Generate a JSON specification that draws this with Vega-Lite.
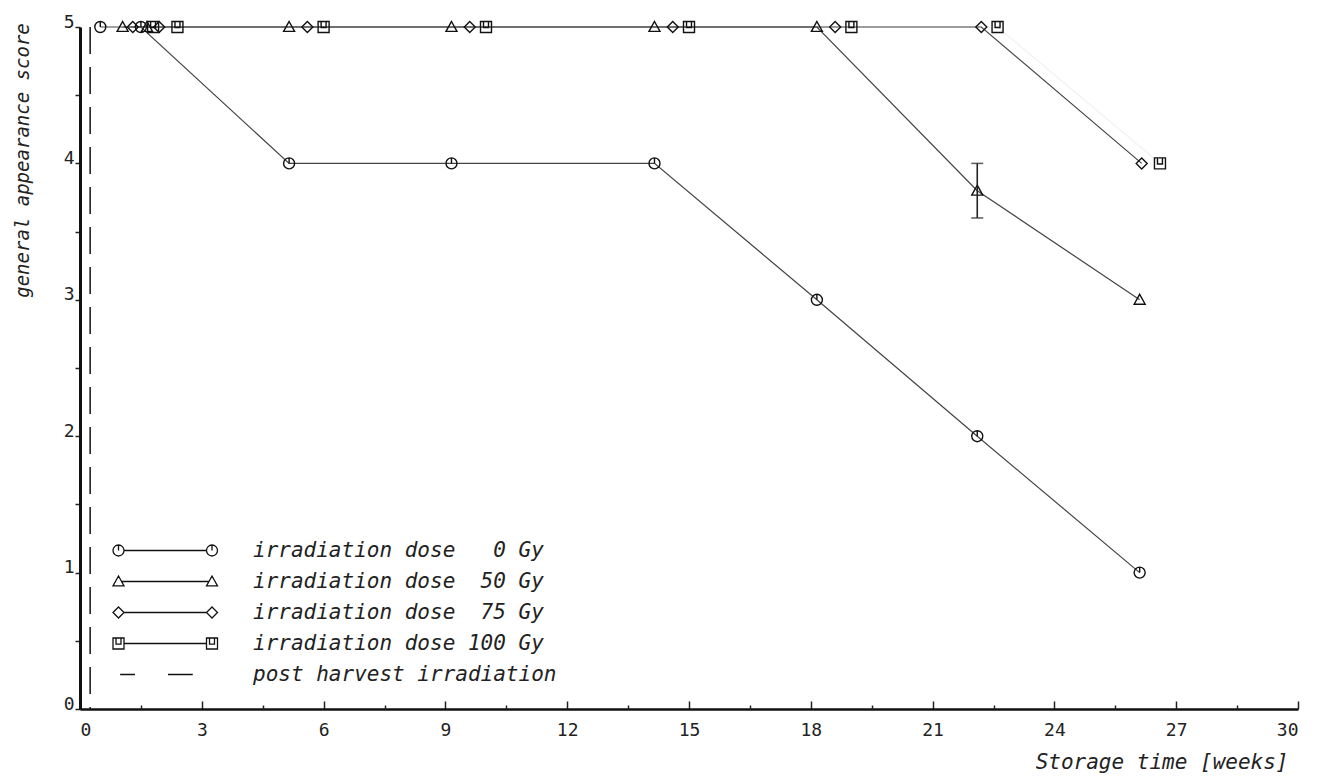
{
  "$schema": "https://vega.github.io/schema/vega-lite/v6.json",
  "width": 1218,
  "height": 682,
  "autosize": {"type": "none"},
  "padding": {"left": 80, "top": 27, "right": 26, "bottom": 67},
  "background": "white",
  "config": {
    "view": {"stroke": null},
    "axis": {
      "grid": false,
      "labelFont": "DejaVu Sans Mono",
      "labelColor": "#222",
      "labelFontSize": 18,
      "domainColor": "#111",
      "tickColor": "#222",
      "tickWidth": 1.5,
      "titleFont": "DejaVu Sans Mono",
      "titleFontStyle": "italic",
      "titleFontWeight": "normal",
      "titleColor": "#222"
    }
  },
  "datasets": {
    "scores": [
      {"series": "irradiation dose\u00a0\u00a0\u00a00 Gy", "week": 0.5, "score": 5},
      {"series": "irradiation dose\u00a0\u00a0\u00a00 Gy", "week": 1.5, "score": 5},
      {"series": "irradiation dose\u00a0\u00a0\u00a00 Gy", "week": 5.15, "score": 4},
      {"series": "irradiation dose\u00a0\u00a0\u00a00 Gy", "week": 9.15, "score": 4},
      {"series": "irradiation dose\u00a0\u00a0\u00a00 Gy", "week": 14.15, "score": 4},
      {"series": "irradiation dose\u00a0\u00a0\u00a00 Gy", "week": 18.15, "score": 3},
      {"series": "irradiation dose\u00a0\u00a0\u00a00 Gy", "week": 22.1, "score": 2},
      {"series": "irradiation dose\u00a0\u00a0\u00a00 Gy", "week": 26.1, "score": 1},
      {"series": "irradiation dose\u00a0\u00a050 Gy", "week": 1.05, "score": 5},
      {"series": "irradiation dose\u00a0\u00a050 Gy", "week": 1.65, "score": 5},
      {"series": "irradiation dose\u00a0\u00a050 Gy", "week": 5.15, "score": 5},
      {"series": "irradiation dose\u00a0\u00a050 Gy", "week": 9.15, "score": 5},
      {"series": "irradiation dose\u00a0\u00a050 Gy", "week": 14.15, "score": 5},
      {"series": "irradiation dose\u00a0\u00a050 Gy", "week": 18.15, "score": 5},
      {"series": "irradiation dose\u00a0\u00a050 Gy", "week": 22.1, "score": 3.8},
      {"series": "irradiation dose\u00a0\u00a050 Gy", "week": 26.1, "score": 3},
      {"series": "irradiation dose\u00a0\u00a075 Gy", "week": 1.3, "score": 5},
      {"series": "irradiation dose\u00a0\u00a075 Gy", "week": 1.95, "score": 5},
      {"series": "irradiation dose\u00a0\u00a075 Gy", "week": 5.6, "score": 5},
      {"series": "irradiation dose\u00a0\u00a075 Gy", "week": 9.6, "score": 5},
      {"series": "irradiation dose\u00a0\u00a075 Gy", "week": 14.6, "score": 5},
      {"series": "irradiation dose\u00a0\u00a075 Gy", "week": 18.6, "score": 5},
      {"series": "irradiation dose\u00a0\u00a075 Gy", "week": 22.2, "score": 5},
      {"series": "irradiation dose\u00a0\u00a075 Gy", "week": 26.15, "score": 4},
      {"series": "irradiation dose\u00a0100 Gy", "week": 1.8, "score": 5},
      {"series": "irradiation dose\u00a0100 Gy", "week": 2.4, "score": 5},
      {"series": "irradiation dose\u00a0100 Gy", "week": 6.0, "score": 5},
      {"series": "irradiation dose\u00a0100 Gy", "week": 10.0, "score": 5},
      {"series": "irradiation dose\u00a0100 Gy", "week": 15.0, "score": 5},
      {"series": "irradiation dose\u00a0100 Gy", "week": 19.0, "score": 5},
      {"series": "irradiation dose\u00a0100 Gy", "week": 22.6, "score": 5},
      {"series": "irradiation dose\u00a0100 Gy", "week": 26.6, "score": 4}
    ],
    "harvest": [{"week": 0.25}],
    "spread": [{"week": 22.1, "low": 3.6, "high": 4.0}]
  },
  "resolve": {
    "axis": {"x": "independent", "y": "independent"},
    "scale": {"shape": "independent"},
    "legend": {"shape": "independent"}
  },
  "layer": [
    {
      "data": {"name": "harvest"},
      "mark": {"type": "rule", "strokeDash": [27, 13], "strokeWidth": 1.6, "color": "#222"},
      "encoding": {
        "x": {
          "field": "week", "type": "quantitative",
          "scale": {"domain": [0, 30], "nice": false, "zero": false},
          "axis": {
            "orient": "bottom",
            "values": [0, 3, 6, 9, 12, 15, 18, 21, 24, 27, 30],
            "tickSize": -8,
            "labelPadding": 20,
            "domainWidth": 2.5,
            "title": "Storage time [weeks]",
            "titleFontSize": 21,
            "titleX": 1208,
            "titleY": 53,
            "titleAlign": "right",
            "titleBaseline": "middle",
            "titleAnchor": null
          }
        }
      }
    },
    {
      "data": {"name": "scores"},
      "mark": {"type": "line", "strokeWidth": 1.2, "color": "#444"},
      "encoding": {
        "x": {"field": "week", "type": "quantitative", "scale": {"domain": [0, 30], "nice": false, "zero": false},
          "axis": {"orient": "bottom", "values": [1.5, 4.5, 7.5, 10.5, 13.5, 16.5, 19.5, 22.5, 25.5, 28.5], "tickSize": -4, "labels": false, "domain": false, "title": null}},
        "y": {"field": "score", "type": "quantitative", "scale": {"domain": [0, 5], "nice": false},
          "axis": {"orient": "left", "values": [0.5, 1.5, 2.5, 3.5, 4.5], "tickSize": 5, "labels": false, "domain": false, "title": null}},
        "detail": {"field": "series"},
        "strokeOpacity": {
          "condition": {"test": "datum.series === 'irradiation dose\u00a0100 Gy'", "value": 0.08},
          "value": 1
        }
      }
    },
    {
      "data": {"name": "scores"},
      "mark": {"type": "point", "filled": false, "size": 121, "strokeWidth": 1.4, "color": "#111", "opacity": 1},
      "encoding": {
        "x": {"field": "week", "type": "quantitative", "scale": {"domain": [0, 30], "nice": false, "zero": false}, "axis": null},
        "y": {"field": "score", "type": "quantitative", "scale": {"domain": [0, 5], "nice": false},
          "axis": {
            "orient": "left",
            "values": [0, 1, 2, 3, 4, 5],
            "tickSize": 5,
            "labelPadding": 1,
            "labelBaseline": "alphabetic",
            "labelAlign": "right",
            "domainWidth": 3,
            "title": "general appearance score",
            "titleFontSize": 19,
            "titleAngle": 270,
            "titleX": -58,
            "titleY": 133,
            "titleAlign": "center",
            "titleBaseline": "middle",
            "titleAnchor": null
          }},
        "shape": {
          "field": "series", "type": "nominal",
          "scale": {
            "domain": [
              "irradiation dose\u00a0\u00a0\u00a00 Gy",
              "irradiation dose\u00a0\u00a050 Gy",
              "irradiation dose\u00a0\u00a075 Gy",
              "irradiation dose\u00a0100 Gy"
            ],
            "range": [
              "M1,0A1,1 0 1,1 -1,0A1,1 0 1,1 1,0ZM0,-1L0,0",
              "M0,-1L1,0.8L-1,0.8Z",
              "M0,-1L1,0L0,1L-1,0Z",
              "M-1,-1H1V1H-1ZM-0.45,-1V0.1H0.45V-1"
            ]
          },
          "legend": null
        }
      }
    },
    {
      "data": {"name": "scores"},
      "mark": {"type": "point", "filled": false, "size": 121, "strokeWidth": 1.3, "color": "#111", "opacity": 0},
      "encoding": {
        "x": {"field": "week", "type": "quantitative", "scale": {"domain": [0, 30], "nice": false, "zero": false}, "axis": null},
        "y": {"field": "score", "type": "quantitative", "scale": {"domain": [0, 5], "nice": false}, "axis": null},
        "shape": {
          "field": "series", "type": "nominal",
          "scale": {
            "domain": [
              "irradiation dose\u00a0\u00a0\u00a00 Gy",
              "irradiation dose\u00a0\u00a050 Gy",
              "irradiation dose\u00a0\u00a075 Gy",
              "irradiation dose\u00a0100 Gy",
              "post harvest irradiation"
            ],
            "range": [
              "M1,0A1,1 0 1,1 -1,0A1,1 0 1,1 1,0ZM0,-1L0,0M1,0L16,0M18,0A1,1 0 1,1 16,0A1,1 0 1,1 18,0ZM17,-1L17,0",
              "M0,-1L1,0.8L-1,0.8ZM0.55,0L16.45,0M17,-1L18,0.8L16,0.8Z",
              "M0,-1L1,0L0,1L-1,0ZM1,0L16,0M17,-1L18,0L17,1L16,0Z",
              "M-1,-1H1V1H-1ZM-0.45,-1V0.1H0.45V-1M1,0L16,0M16,-1H18V1H16ZM16.55,-1V0.1H17.45V-1",
              "M0.3,0L3,0M9,0L13.5,0"
            ]
          },
          "legend": {
            "title": null,
            "orient": "none",
            "legendX": 28,
            "legendY": 513,
            "padding": 0,
            "rowPadding": 9,
            "symbolSize": 121,
            "symbolOpacity": 1,
            "symbolStrokeWidth": 1.3,
            "symbolStrokeColor": "#111",
            "symbolFillColor": "transparent",
            "labelOffset": 124,
            "labelFont": "DejaVu Sans Mono",
            "labelFontStyle": "italic",
            "labelFontSize": 21,
            "labelColor": "#222",
            "labelLimit": 0
          }
        }
      }
    },
    {
      "data": {"name": "spread"},
      "mark": {"type": "rule", "strokeWidth": 1.6, "color": "#222"},
      "encoding": {
        "x": {"field": "week", "type": "quantitative", "scale": {"domain": [0, 30], "nice": false, "zero": false}, "axis": null},
        "y": {"field": "low", "type": "quantitative", "scale": {"domain": [0, 5], "nice": false}, "axis": null},
        "y2": {"field": "high"}
      }
    },
    {
      "data": {"name": "spread"},
      "mark": {"type": "tick", "orient": "horizontal", "size": 12, "thickness": 1.6, "color": "#222"},
      "encoding": {
        "x": {"field": "week", "type": "quantitative", "scale": {"domain": [0, 30], "nice": false, "zero": false}, "axis": null},
        "y": {"field": "low", "type": "quantitative", "scale": {"domain": [0, 5], "nice": false}, "axis": null}
      }
    },
    {
      "data": {"name": "spread"},
      "mark": {"type": "tick", "orient": "horizontal", "size": 12, "thickness": 1.6, "color": "#222"},
      "encoding": {
        "x": {"field": "week", "type": "quantitative", "scale": {"domain": [0, 30], "nice": false, "zero": false}, "axis": null},
        "y": {"field": "high", "type": "quantitative", "scale": {"domain": [0, 5], "nice": false}, "axis": null}
      }
    }
  ]
}
